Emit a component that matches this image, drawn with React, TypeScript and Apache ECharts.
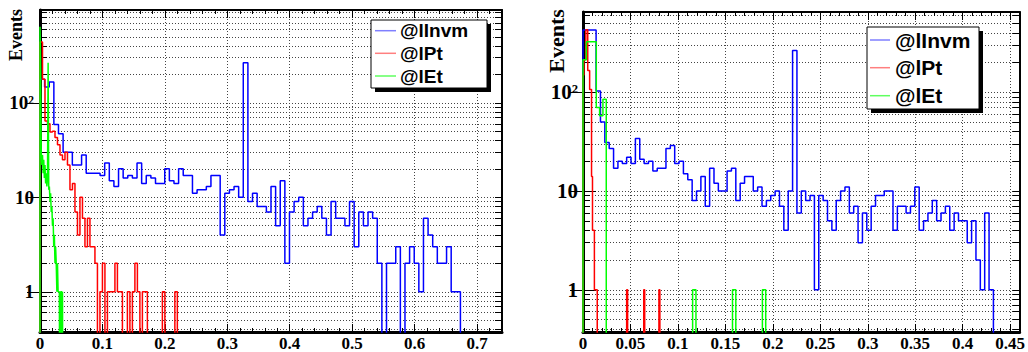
import React, { useEffect, useRef } from 'react';
import * as echarts from 'echarts';

// ---------- data ----------
const ZERO_FLOOR = 0.01; // empty bins drawn below the axis floor (clipped)

const seriesNames = ['@lInvm', '@lPt', '@lEt'];
const seriesColors = ['#0000ff', '#ff0000', '#00ff00'];
const legendColors = ['#7f7fff', '#ff7f7f', '#5fff5f'];

// left panel
const leftXMax = 0.74;
const leftXInterval = 0.1;
const leftYMin = 0.375;
const leftYMax = 960;

const leftInvmBin = 0.0074;
const leftInvm = [
  177, 147, 166, 59, 47, 30, 30, 22, 22, 28,
  18, 18, 18, 17, 23, 15, 13, 20, 16, 17,
  16, 23, 14, 17, 16, 14, 14, 20, 15, 14,
  20, 17, 17, 11, 12, 12, 13, 17, 17, 4,
  11, 12, 13, 10, 265, 9, 11, 8, 8, 7,
  13, 5, 15, 2, 7, 9, 10, 5, 6, 7,
  8, 6, 4, 9, 6, 6, 5, 9, 3, 7,
  5, 7, 6, 2, 0, 2, 2, 3, 0, 2,
  3, 2, 1, 6, 4, 3, 2, 2, 3, 1,
  1, 0, 0, 0, 0, 0, 0, 0, 0, 0,
];

const leftPtBin = 0.004;
const leftPt = [
  440, 177, 64, 60, 49, 50, 43, 36, 28, 25,
  30, 22, 12, 14, 7, 4, 10, 6, 3, 6,
  3, 3, 2, 0, 1, 2, 0, 1, 1, 1,
  2, 1, 1, 0, 0, 1, 0, 1, 2, 1,
  0, 1, 1, 0, 0, 0, 0, 0, 0, 1,
  0, 0, 0, 0, 1,
];

const leftEtBin = 0.001;
const leftEt = [
  640, 200, 30, 22, 28, 18, 25, 16, 22, 14,
  18, 13, 16, 265, 12, 13, 9, 11, 7, 8,
  5, 6, 3, 4, 2, 3, 2, 1, 2, 1,
  1, 1, 0, 1, 1, 0, 1,
];

// right panel
const rightXMax = 0.46;
const rightXInterval = 0.05;
const rightYMin = 0.374;
const rightYMax = 650;

const rightInvmBin = 0.0046;
const rightInvm = [
  427, 427, 427, 103, 50, 31, 27, 17, 20, 19,
  22, 19, 34, 21, 19, 20, 16, 17, 17, 27,
  29, 19, 20, 15, 13, 8, 10, 14, 7, 17,
  12, 10, 10, 16, 17, 8, 12, 14, 14, 10,
  11, 7, 8, 9, 10, 7, 4, 10, 265, 6,
  10, 8, 9, 1, 9, 8, 5, 4, 8, 10,
  11, 6, 7, 3, 6, 4, 7, 9, 9, 10,
  10, 4, 7, 7, 6, 7, 11, 4, 5, 6,
  8, 5, 6, 7, 4, 6, 5, 5, 3, 5,
  2, 1, 6, 1, 0, 0, 0, 0, 0, 0,
];

const rightPtBin = 0.001;
const rightPt = [
  150, 214, 214, 430, 430, 166, 166, 107, 107, 14,
  4, 4, 1, 1, 1, 0, 0, 0, 0, 0,
  0, 0, 0, 0, 0, 0, 0, 0, 0, 0,
  0, 0, 0, 0, 0, 0, 0, 0, 0, 0,
  0, 0, 0, 0, 0, 0, 1, 0, 0, 0,
  0, 0, 0, 0, 0, 0, 0, 0, 0, 0,
  0, 0, 0, 0, 1, 0, 0, 0, 0, 0,
  0, 0, 0, 0, 0, 0, 0, 0, 0, 0,
  1,
];

const rightEtBin = 0.0035;
const rightEt = [
  214, 325, 325, 325, 70, 58, 85, 0, 0, 0,
  0, 0, 0, 0, 0, 0, 0, 0, 0, 0,
  0, 0, 0, 0, 0, 0, 0, 0, 0, 0,
  0, 0, 0, 1, 0, 0, 0, 0, 0, 0,
  0, 0, 0, 0, 0, 1, 0, 0, 0, 0,
  0, 0, 0, 0, 1,
];

const yMajorTicks = [1, 10, 100];
const yAllTicks = [
  0.4, 0.5, 0.6, 0.7, 0.8, 0.9,
  1, 2, 3, 4, 5, 6, 7, 8, 9,
  10, 20, 30, 40, 50, 60, 70, 80, 90,
  100, 200, 300, 400, 500, 600, 700, 800, 900,
];

// ---------- helpers ----------
function histPoints(values: number[], width: number) {
  const pts: number[][] = [[0, ZERO_FLOOR]];
  values.forEach((v, i) => pts.push([i * width, v > 0 ? v : ZERO_FLOOR]));
  const last = values[values.length - 1];
  pts.push([values.length * width, last > 0 ? last : ZERO_FLOOR]);
  pts.push([values.length * width, ZERO_FLOOR]);
  return pts;
}

const SERIF = '"Liberation Serif", "DejaVu Serif", serif';
const SANS = '"Liberation Sans", Arial, sans-serif';

function xAxes(gridIndex: number, max: number, interval: number, fontSize: number) {
  const common = {
    type: 'value', gridIndex, min: 0, max, interval,
    axisTick: { show: true, inside: true, length: 8, lineStyle: { color: '#000', width: 1 } },
    minorTick: { show: true, splitNumber: 5, length: 4, lineStyle: { color: '#000', width: 1 } },
  };
  return [
    {
      ...common, position: 'bottom',
      axisLine: { show: true, onZero: false, lineStyle: { color: '#000', width: 3 } },
      axisLabel: {
        show: true, margin: 3, color: '#000', fontFamily: SERIF, fontWeight: 'bold', fontSize,
        showMaxLabel: false,
        formatter: (v: number) => String(Math.round(v * 1000) / 1000),
      },
      splitLine: { show: true, lineStyle: { color: '#444', type: [1, 2], width: 1 } },
    },
    {
      ...common, position: 'top',
      axisLine: { show: true, onZero: false, lineStyle: { color: '#000', width: 2 } },
      axisLabel: { show: false },
      splitLine: { show: false },
    },
  ];
}

function yAxes(gridIndex: number, min: number, max: number, fontSize: number, margin: number) {
  const common = { type: 'log', logBase: 10, gridIndex, min, max };
  return [
    {
      ...common, position: 'left',
      axisLine: { show: true, onZero: false, lineStyle: { color: '#000', width: 3 } },
      axisTick: { show: true, inside: true, length: 7, customValues: yAllTicks, lineStyle: { color: '#000', width: 1 } },
      axisLabel: {
        show: true, customValues: yMajorTicks, margin, color: '#000',
        fontFamily: SERIF, fontWeight: 'bold', fontSize,
        formatter: (v: number) => (Math.round(v) >= 100 ? '10²' : String(Math.round(v))),
      },
      splitLine: { show: true, lineStyle: { color: '#444', type: [1, 2], width: 1 } },
    },
    {
      ...common, position: 'left',
      axisLine: { show: false },
      axisTick: { show: true, inside: true, length: 13, customValues: yMajorTicks, lineStyle: { color: '#000', width: 1 } },
      axisLabel: { show: false },
      splitLine: { show: false },
    },
    {
      ...common, position: 'right',
      axisLine: { show: true, onZero: false, lineStyle: { color: '#000', width: 2 } },
      axisTick: { show: true, inside: true, length: 7, customValues: yAllTicks, lineStyle: { color: '#000', width: 1 } },
      axisLabel: { show: false },
      splitLine: { show: false },
    },
    {
      ...common, position: 'right',
      axisLine: { show: false },
      axisTick: { show: true, inside: true, length: 13, customValues: yMajorTicks, lineStyle: { color: '#000', width: 1 } },
      axisLabel: { show: false },
      splitLine: { show: false },
    },
  ];
}

function histSeries(name: string, color: string, values: number[], bin: number, xAxisIndex: number, yAxisIndex: number, z: number) {
  return {
    type: 'line', name, xAxisIndex, yAxisIndex,
    data: histPoints(values, bin),
    step: 'end', showSymbol: false, symbol: 'none', clip: true, silent: true, z,
    lineStyle: { color, width: 1.5 },
    itemStyle: { color },
  };
}

function legendGraphics(x: number, y: number, w: number, h: number, rowY: number[], lineX0: number, lineX1: number, textX: number, fontSize: number) {
  const els: any[] = [
    { type: 'rect', shape: { x: x + 4, y: y + 4, width: w, height: h }, style: { fill: '#000' }, z: 100 },
    { type: 'rect', shape: { x, y, width: w, height: h }, style: { fill: '#fff', stroke: '#000', lineWidth: 1 }, z: 101 },
  ];
  seriesNames.forEach((name, i) => {
    els.push({
      type: 'line', shape: { x1: lineX0, y1: rowY[i], x2: lineX1, y2: rowY[i] },
      style: { stroke: legendColors[i], lineWidth: 1.5 }, z: 102,
    });
    els.push({
      type: 'text', x: textX, y: rowY[i], z: 102,
      style: { text: name, fill: '#000', fontFamily: SANS, fontWeight: 'bold', fontSize, align: 'left', verticalAlign: 'middle' },
    });
  });
  return els;
}

export default function App() {
  const ref = useRef<HTMLDivElement>(null);
  useEffect(() => {
    if (!ref.current) return;
    const chart = echarts.init(ref.current, undefined, { renderer: 'svg' });
    const option: any = {
      animation: false,
      backgroundColor: '#fff',
      grid: [
        { left: 40, top: 10, width: 462, height: 324 },
        { left: 583, top: 12, width: 442, height: 324 },
      ],
      xAxis: [
        ...xAxes(0, leftXMax, leftXInterval, 17),
        ...xAxes(1, rightXMax, rightXInterval, 17),
      ],
      yAxis: [
        ...yAxes(0, leftYMin, leftYMax, 19, 6),
        ...yAxes(1, rightYMin, rightYMax, 21, 5),
      ],
      series: [
        histSeries(seriesNames[0], seriesColors[0], leftInvm, leftInvmBin, 0, 0, 3),
        histSeries(seriesNames[1], seriesColors[1], leftPt, leftPtBin, 0, 0, 4),
        histSeries(seriesNames[2], seriesColors[2], leftEt, leftEtBin, 0, 0, 5),
        histSeries(seriesNames[0], seriesColors[0], rightInvm, rightInvmBin, 2, 4, 3),
        histSeries(seriesNames[1], seriesColors[1], rightPt, rightPtBin, 2, 4, 4),
        histSeries(seriesNames[2], seriesColors[2], rightEt, rightEtBin, 2, 4, 5),
      ],
      graphic: [
        {
          type: 'text', x: 16, y: 35, rotation: Math.PI / 2,
          style: { text: 'Events', fill: '#000', fontFamily: SERIF, fontWeight: 'bold', fontSize: 18, align: 'center', verticalAlign: 'middle' },
        },
        {
          type: 'text', x: 556, y: 41, rotation: Math.PI / 2,
          style: { text: 'Events', fill: '#000', fontFamily: SERIF, fontWeight: 'bold', fontSize: 22, align: 'center', verticalAlign: 'middle' },
        },
        ...legendGraphics(371, 20, 116, 68, [30.7, 53.3, 76], 375, 396, 400, 19),
        ...legendGraphics(867, 27, 112, 82, [40, 67.7, 95.7], 870, 890, 895, 21),
      ],
    };
    chart.setOption(option);
    return () => chart.dispose();
  }, []);
  return (
    <div
      ref={ref}
      style={{ position: 'absolute', left: 0, top: 0, width: 1028, height: 352, background: '#fff' }}
    />
  );
}
